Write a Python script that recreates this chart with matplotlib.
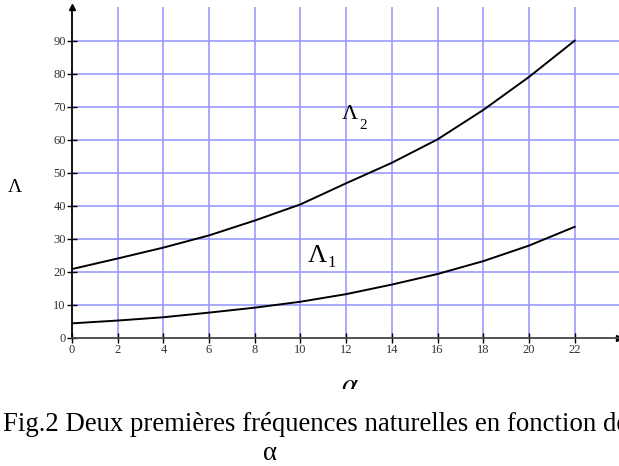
import matplotlib
matplotlib.use("Agg")
import matplotlib.pyplot as plt
from matplotlib.transforms import Bbox

plt.rcParams['font.family'] = ['Liberation Serif', 'DejaVu Serif']
plt.rcParams['mathtext.fontset'] = 'stix'

alpha = [0, 2, 4, 6, 8, 10, 12, 14, 16, 18, 20, 22]
lam1 = [4.35, 5.2, 6.2, 7.6, 9.1, 10.9, 13.2, 16.1, 19.3, 23.2, 27.9, 33.6]
lam2 = [20.8, 24.0, 27.3, 31.0, 35.5, 40.4, 46.8, 53.0, 60.1, 69.0, 79.0, 90.0]

xticks = list(range(0, 24, 2))
yticks = list(range(0, 100, 10))
caption = "Fig.2 Deux premières fréquences naturelles en fonction de"

fig = plt.figure(figsize=(6.19, 4.66), dpi=100)
ax = fig.add_axes([72 / 619, (466 - 337.7) / 466, (619 - 72) / 619, (337.7 - 7) / 466])

ax.set_xlim(0, 23.94)
ax.set_ylim(0, 100.2)

# grid
for x in xticks[1:]:
    ax.axvline(x, color='#9b9bff', lw=1.2, zorder=0)
for y in yticks[1:]:
    ax.axhline(y, color='#9b9bff', lw=1.2, zorder=0)

ax.plot(alpha, lam1, color='black', lw=1.4, zorder=3)
ax.plot(alpha, lam2, color='black', lw=1.4, zorder=3)

ax.spines['top'].set_visible(False)
ax.spines['right'].set_visible(False)
ax.spines['left'].set_color('black')
ax.spines['left'].set_linewidth(1.3)
ax.spines['bottom'].set_color('#444444')
ax.spines['bottom'].set_linewidth(1.3)

ax.set_xticks(xticks)
ax.set_yticks(yticks)
ax.tick_params(axis='both', direction='inout', length=7, width=1, labelsize=9,
               labelcolor='#333333', pad=1)

# axis arrows
ax.plot(0, 1, marker='^', color='black', ms=4, transform=ax.transAxes, clip_on=False)
ax.plot(1, 0, marker='>', color='black', ms=4, transform=ax.transAxes, clip_on=False)

# curve labels
ax.text(11.82, 66.3, 'Λ', fontsize=16, ha='left', va='baseline')
ax.text(12.56, 63.3, '2', fontsize=11, ha='left', va='baseline')
ax.text(10.33, 22.9, 'Λ', fontsize=19, ha='left', va='baseline')
ax.text(11.2, 21.4, '1', fontsize=12, ha='left', va='baseline')

# y label
fig.text(15 / 619, 1 - 188 / 466, 'Λ', fontsize=14, ha='center', va='center')

# x label, lower half cut off as in the original
t = fig.text(350 / 619, 1 - 386 / 466, r'$\alpha$', fontsize=21, ha='center', va='center')
t.set_clip_box(Bbox([[0, 466 - 389], [619, 466]]))
t.set_clip_on(True)

fig.text(3 / 619, 1 - 431 / 466, caption, fontsize=19.3, ha='left', va='baseline')
fig.text(270 / 619, 1 - 453 / 466, 'α', fontsize=19.3, ha='center', va='center')

fig.savefig('out.png', dpi=100)
